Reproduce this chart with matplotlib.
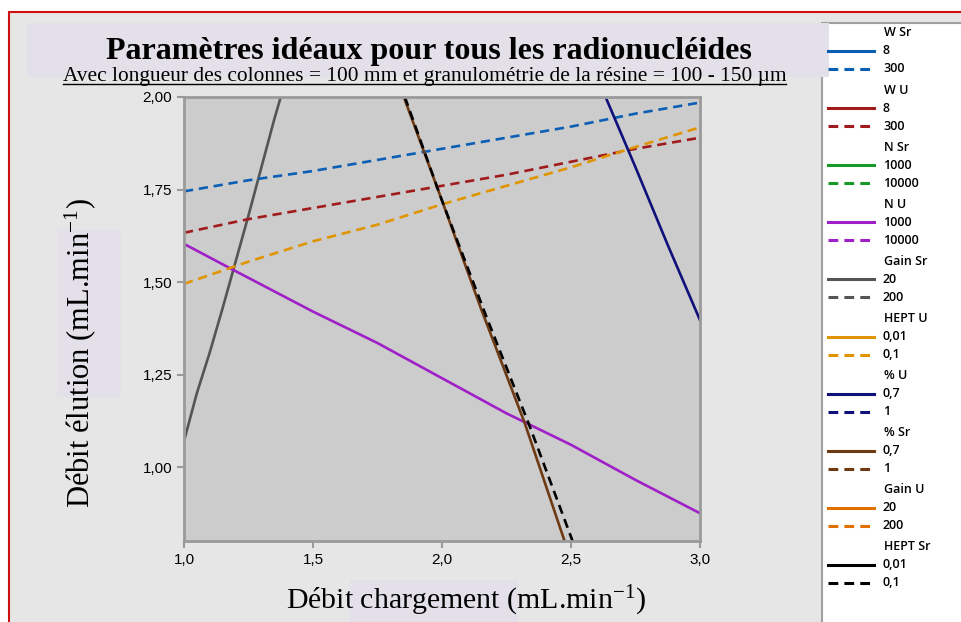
import matplotlib
matplotlib.use("Agg")
import matplotlib.pyplot as plt
from matplotlib.patches import Rectangle
from matplotlib.lines import Line2D
from matplotlib.ticker import FuncFormatter

W, H = 962, 622

# courbes visibles dans la zone du graphe
x_w_sr = [1.0, 1.25, 1.5, 1.75, 2.0, 2.25, 2.5, 2.75, 3.0]
y_w_sr_300 = [1.745, 1.775, 1.80, 1.83, 1.86, 1.89, 1.92, 1.955, 1.985]

x_w_u = [1.0, 1.25, 1.5, 1.75, 2.0, 2.25, 2.5, 2.75, 3.0]
y_w_u_300 = [1.633, 1.67, 1.70, 1.73, 1.76, 1.79, 1.825, 1.86, 1.89]

x_hept_u = [1.0, 1.25, 1.5, 1.75, 2.0, 2.25, 2.5, 2.75, 3.0]
y_hept_u_01 = [1.495, 1.555, 1.61, 1.655, 1.71, 1.76, 1.81, 1.865, 1.918]

x_n_u = [1.0, 1.19, 1.5, 1.75, 2.0, 2.25, 2.5, 2.75, 3.0]
y_n_u_1000 = [1.603, 1.533, 1.42, 1.335, 1.24, 1.145, 1.06, 0.965, 0.875]

x_gain_sr = [1.0, 1.05, 1.1, 1.15, 1.2, 1.25, 1.3, 1.35, 1.375]
y_gain_sr_20 = [1.07, 1.2, 1.31, 1.43, 1.555, 1.68, 1.81, 1.94, 2.0]

x_pct_sr = [1.852, 2.0, 2.15, 2.32, 2.475]
y_pct_sr_07 = [2.0, 1.72, 1.43, 1.12, 0.80]

x_hept_sr = [1.856, 2.0, 2.17, 2.34, 2.506]
y_hept_sr_01 = [2.0, 1.72, 1.41, 1.11, 0.80]

x_pct_u = [2.634, 2.75, 2.875, 3.0]
y_pct_u_07 = [2.0, 1.81, 1.60, 1.397]

# legende : (titre, couleur, libelle trait plein, libelle pointille)
leg_titles = ["W Sr", "W U", "N Sr", "N U", "Gain Sr", "HEPT U", "% U", "% Sr", "Gain U", "HEPT Sr"]
leg_colors = ["#0a5fb4", "#a01c1c", "#189a28", "#a020c8", "#555555",
              "#e09400", "#10107a", "#6e3a14", "#e07000", "#000000"]
leg_solid = ["8", "8", "1000", "1000", "20", "0,01", "0,7", "0,7", "20", "0,01"]
leg_dash = ["300", "300", "10000", "10000", "200", "0,1", "1", "1", "200", "0,1"]

col = dict(zip(leg_titles, leg_colors))
dash = (0, (3.5, 2.2))

serif = "Liberation Serif"
plt.rcParams["mathtext.fontset"] = "custom"
plt.rcParams["mathtext.rm"] = serif
plt.rcParams["mathtext.it"] = serif


def fx(px):
    return px / W


def fy(py):
    return 1 - py / H


fig = plt.figure(figsize=(W / 100, H / 100), dpi=100, facecolor="white")

# fond gris avec cadre rouge
fig.patches.append(Rectangle((fx(9), fy(640)), fx(970) - fx(9), fy(12) - fy(640),
                             transform=fig.transFigure, facecolor="#e6e6e6",
                             edgecolor="#d01010", lw=1.5, zorder=0))
# panneau legende
fig.patches.append(Rectangle((fx(822), fy(640)), 0.3, fy(23) - fy(640),
                             transform=fig.transFigure, facecolor="white",
                             edgecolor="#a0a0a0", lw=1.5, zorder=1))
# cadres lavande (titre, etiquettes)
lav = "#e4e0ea"
fig.patches.append(Rectangle((fx(27), fy(77)), fx(829) - fx(27), fy(23) - fy(77),
                             transform=fig.transFigure, facecolor=lav, lw=0, zorder=2))
fig.patches.append(Rectangle((fx(57), fy(397)), fx(121) - fx(57), fy(229) - fy(397),
                             transform=fig.transFigure, facecolor=lav, lw=0, zorder=2))
fig.patches.append(Rectangle((fx(350), fy(640)), fx(518) - fx(350), fy(580) - fy(640),
                             transform=fig.transFigure, facecolor=lav, lw=0, zorder=2))

ax = fig.add_axes([fx(184), fy(541), fx(700) - fx(184), fy(97) - fy(541)])
ax.set_zorder(3)
ax.set_facecolor("#cccccc")
for s in ax.spines.values():
    s.set_color("#9a9a9a")
    s.set_linewidth(2)

lw = 1.9
ax.plot(x_gain_sr, y_gain_sr_20, color=col["Gain Sr"], lw=lw)
ax.plot(x_n_u, y_n_u_1000, color=col["N U"], lw=lw)
ax.plot(x_w_sr, y_w_sr_300, color=col["W Sr"], lw=lw, linestyle=dash)
ax.plot(x_w_u, y_w_u_300, color=col["W U"], lw=lw, linestyle=dash)
ax.plot(x_hept_u, y_hept_u_01, color=col["HEPT U"], lw=lw, linestyle=dash)
ax.plot(x_pct_u, y_pct_u_07, color=col["% U"], lw=lw)
ax.plot(x_pct_sr, y_pct_sr_07, color=col["% Sr"], lw=lw)
ax.plot(x_hept_sr, y_hept_sr_01, color=col["HEPT Sr"], lw=lw, linestyle=dash)

ax.set_xlim(1.0, 3.0)
ax.set_ylim(0.80, 2.0)
ax.set_xticks([1.0, 1.5, 2.0, 2.5, 3.0])
ax.set_yticks([1.0, 1.25, 1.5, 1.75, 2.0])
ax.xaxis.set_major_formatter(FuncFormatter(lambda v, p: f"{v:.1f}".replace(".", ",")))
ax.yaxis.set_major_formatter(FuncFormatter(lambda v, p: f"{v:.2f}".replace(".", ",")))
ax.tick_params(colors="#9a9a9a", width=1.5, length=5, labelcolor="black",
               labelsize=11)
for t in ax.get_xticklabels() + ax.get_yticklabels():
    t.set_family("Liberation Sans")

fig.text(fx(429), fy(52), "Paramètres idéaux pour tous les radionucléides",
         ha="center", va="center", fontsize=23, fontweight="bold", family=serif, zorder=5)
fig.text(fx(425), fy(81), "Avec longueur des colonnes = 100 mm et granulométrie de la résine = 100 - 150 µm",
         ha="center", va="baseline", fontsize=15.4, family=serif, zorder=5)
fig.lines.append(Line2D([fx(63), fx(786)], [fy(84), fy(84)], transform=fig.transFigure,
                        color="black", lw=1, zorder=5))
fig.text(fx(80), fy(353), "Débit élution (mL.min$^{-1}$)", rotation=90, ha="center",
         va="center", fontsize=22, family=serif, zorder=5)
fig.text(fx(466), fy(601), "Débit chargement (mL.min$^{-1}$)", ha="center",
         va="center", fontsize=21.5, family=serif, zorder=5)

# legende manuelle
for i, (t, c, a, b) in enumerate(zip(leg_titles, leg_colors, leg_solid, leg_dash)):
    y0 = 33 + i * 57.1
    fig.text(fx(884), fy(y0), t, fontsize=9, fontweight="semibold", family="Open Sans",
             va="center", ha="left", zorder=6)
    for k, (lab, ls) in enumerate([(a, "-"), (b, (0, (3.2, 2.0)))]):
        yy = y0 + 18 + k * 18
        fig.lines.append(Line2D([fx(828), fx(874)], [fy(yy), fy(yy)],
                                transform=fig.transFigure, color=c, lw=2.2,
                                linestyle=ls, zorder=6))
        fig.text(fx(883), fy(yy), lab, fontsize=9, fontweight="semibold",
                 family="Open Sans", va="center", ha="left", zorder=6)

fig.savefig("out.png", dpi=100, facecolor=fig.get_facecolor())
